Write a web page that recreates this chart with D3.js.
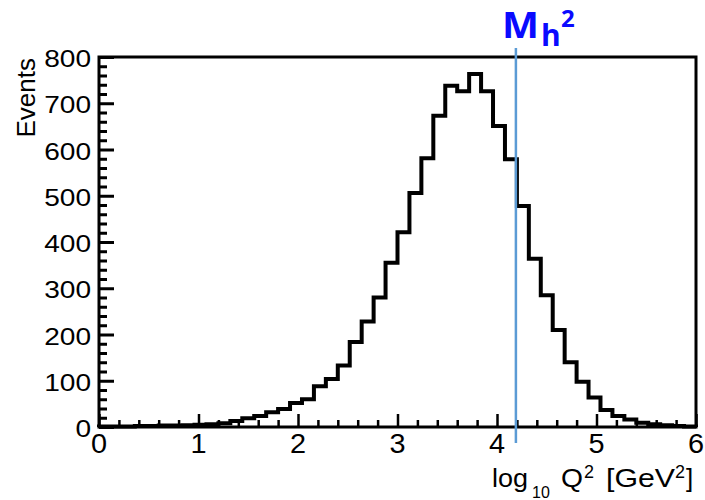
<!DOCTYPE html>
<html>
<head>
<meta charset="utf-8">
<script src="https://cdn.jsdelivr.net/npm/d3@7"></script>
<style>
    body { margin: 0; background: #fff; }
    svg { display: block; }
    .tick-label { font-family: 'Liberation Sans', Arial, sans-serif; fill: #000; }
    .axis-title { font-family: 'Liberation Sans', Arial, sans-serif; fill: #000; }
    .mh-label { font-family: 'Open Sans', Lato, sans-serif; font-weight: bold; fill: #0a0aff; }
</style>
</head>
<body>
<div id="chart"></div>
<script>
// histogram of log10 Q^2, 50 bins of 0.12 from 0 to 6
const BIN_LOW = 0;
const BIN_WIDTH = 0.12;
const counts = [
    1, 1, 1, 2, 2, 3, 3, 4, 5, 6,
    8, 13, 19, 24, 32, 39, 52, 60, 88, 104,
    133, 184, 228, 280, 355, 421, 506, 581, 673, 738,
    726, 763, 726, 651, 579, 478, 364, 285, 210, 140,
    98, 64, 37, 24, 16, 9, 6, 4, 2, 1
];

const xMajorTicks = [0, 1, 2, 3, 4, 5, 6];
const xMinorTicks = [0.2, 0.4, 0.6, 0.8, 1.2, 1.4, 1.6, 1.8, 2.2, 2.4, 2.6, 2.8,
    3.2, 3.4, 3.6, 3.8, 4.2, 4.4, 4.6, 4.8, 5.2, 5.4, 5.6, 5.8];
const yMajorTicks = [0, 100, 200, 300, 400, 500, 600, 700, 800];
const yMinorTicks = [20, 40, 60, 80, 120, 140, 160, 180, 220, 240, 260, 280,
    320, 340, 360, 380, 420, 440, 460, 480, 520, 540, 560, 580,
    620, 640, 660, 680, 720, 740, 760, 780];

// log10(125^2)
const MH2 = 4.19;

const W = 705;
const H = 500;
const margin = { top: 57, left: 99, right: 9, bottom: 73 };

const xScale = d3.scaleLinear().domain([0, 6]).range([margin.left, W - margin.right]);
const yScale = d3.scaleLinear().domain([0, 800]).range([H - margin.bottom, margin.top]);

const svg = d3.select('#chart')
    .append('svg')
    .attr('width', W)
    .attr('height', H);

/** histogram outline */
let pts = [[BIN_LOW, 0]];
counts.forEach((c, i) => {
    let lo = BIN_LOW + i * BIN_WIDTH;
    pts.push([lo, c]);
    pts.push([lo + BIN_WIDTH, c]);
});
pts.push([BIN_LOW + counts.length * BIN_WIDTH, 0]);

const line = d3.line()
    .x((d) => xScale(d[0]))
    .y((d) => yScale(d[1]));

svg.append('path')
    .datum(pts)
    .attr('d', line)
    .attr('fill', 'none')
    .attr('stroke', '#000')
    .attr('stroke-width', 4)
    .attr('stroke-linejoin', 'miter');

/** ticks, pointing inward */
function ticks(axis, size, width) {
    return (g) => {
        g.call(axis.tickSize(size).tickFormat(''));
        g.select('.domain').remove();
        g.selectAll('.tick line').attr('stroke', '#000').attr('stroke-width', width);
    };
}

svg.append('g')
    .attr('transform', `translate(${margin.left},0)`)
    .call(ticks(d3.axisLeft(yScale).tickValues(yMajorTicks), -15, 3));
svg.append('g')
    .attr('transform', `translate(${margin.left},0)`)
    .call(ticks(d3.axisLeft(yScale).tickValues(yMinorTicks), -8, 3));
svg.append('g')
    .attr('transform', `translate(0,${H - margin.bottom})`)
    .call(ticks(d3.axisBottom(xScale).tickValues(xMajorTicks), -13, 2.5));
svg.append('g')
    .attr('transform', `translate(0,${H - margin.bottom})`)
    .call(ticks(d3.axisBottom(xScale).tickValues(xMinorTicks), -7, 2.5));

/** frame */
svg.append('rect')
    .attr('x', xScale(0))
    .attr('y', yScale(800))
    .attr('width', xScale(6) - xScale(0))
    .attr('height', yScale(0) - yScale(800))
    .attr('fill', 'none')
    .attr('stroke', '#000')
    .attr('stroke-width', 3);

/** tick labels */
svg.selectAll('.ylab')
    .data(yMajorTicks)
    .enter()
    .append('text')
    .attr('class', 'tick-label')
    .attr('text-anchor', 'end')
    .attr('font-size', 24)
    .attr('transform', (d) => `translate(${margin.left - 8},${yScale(d) + 10}) scale(1.17,1)`)
    .text((d) => d);

svg.selectAll('.xlab')
    .data(xMajorTicks)
    .enter()
    .append('text')
    .attr('class', 'tick-label')
    .attr('text-anchor', 'middle')
    .attr('font-size', 27)
    .attr('transform', (d) => `translate(${xScale(d)},${H - margin.bottom + 26}) scale(1.07,1)`)
    .text((d) => d);

/** axis titles */
svg.append('text')
    .attr('class', 'axis-title')
    .attr('font-size', 26)
    .attr('text-anchor', 'end')
    .attr('transform', `translate(35,${margin.top + 1}) rotate(-90)`)
    .text('Events');

const xt = svg.append('text')
    .attr('class', 'axis-title')
    .attr('font-size', 26)
    .attr('y', 487);
xt.append('tspan').attr('x', 492).attr('textLength', 36).attr('lengthAdjust', 'spacingAndGlyphs').text('log');
xt.append('tspan').attr('x', 532).attr('y', 498).attr('font-size', 16).text('10');
xt.append('tspan').attr('x', 561).attr('y', 487).attr('textLength', 22).attr('lengthAdjust', 'spacingAndGlyphs').text('Q');
xt.append('tspan').attr('x', 584).attr('y', 478).attr('font-size', 18).text('2');
xt.append('tspan').attr('x', 606).attr('y', 487).attr('textLength', 69).attr('lengthAdjust', 'spacingAndGlyphs').text('[GeV');
xt.append('tspan').attr('x', 675).attr('y', 478).attr('font-size', 18).text('2');
xt.append('tspan').attr('x', 686).attr('y', 487).text(']');

/** Higgs mass line */
svg.append('line')
    .attr('x1', xScale(MH2))
    .attr('x2', xScale(MH2))
    .attr('y1', yScale(800) - 9)
    .attr('y2', yScale(0) + 16)
    .attr('stroke', '#5b9bd5')
    .attr('stroke-width', 2.5);

const mh = svg.append('text')
    .attr('class', 'mh-label')
    .attr('y', 38);
mh.append('tspan').attr('x', 502).attr('font-size', 36).attr('textLength', 37).attr('lengthAdjust', 'spacingAndGlyphs').text('M');
mh.append('tspan').attr('x', 541).attr('y', 46).attr('font-size', 30).text('h');
mh.append('tspan').attr('x', 561).attr('y', 27).attr('font-size', 24).text('2');
</script>
</body>
</html>
